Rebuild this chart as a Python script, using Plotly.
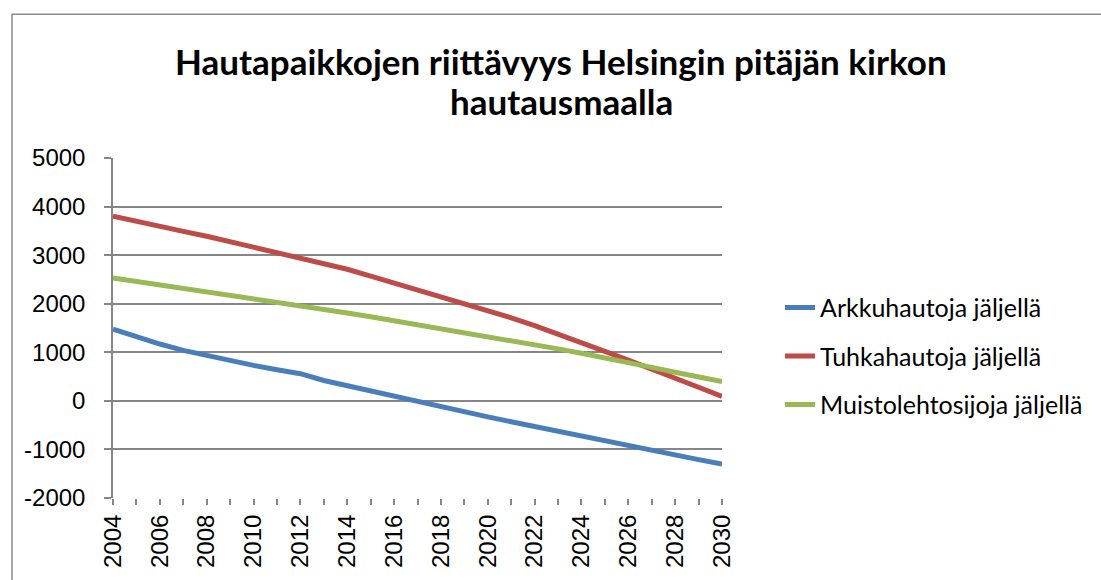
import plotly.graph_objects as go

years = list(range(2004, 2031))
arkku = [1476, 1310, 1170, 1040, 930, 830, 730, 640, 560, 420, 310, 200, 90, -20,
         -120, -230, -330, -430, -530, -630, -730, -830, -930, -1030, -1120, -1210, -1300]
tuhka = [3800, 3690, 3590, 3490, 3390, 3280, 3170, 3060, 2950, 2830, 2710, 2570, 2430, 2290,
         2150, 2010, 1860, 1710, 1550, 1380, 1200, 1020, 840, 660, 470, 280, 90]
muisto = [2530, 2460, 2390, 2320, 2250, 2180, 2110, 2040, 1970, 1890, 1810, 1730, 1650, 1570,
          1490, 1410, 1330, 1250, 1160, 1070, 980, 890, 790, 690, 590, 490, 395]
names = ["Arkkuhautoja jäljellä", "Tuhkahautoja jäljellä", "Muistolehtosijoja jäljellä"]
colors = ["#4A7EBB", "#BE4B48", "#98B954"]
y_ticks = [5000, 4000, 3000, 2000, 1000, 0, -1000, -2000]
y_labels = ["5000", "4000", "3000", "2000", "1000", "0", "-1000", "-2000"]
x_labels = list(range(2004, 2031, 2))

W, H = 1101, 580
L, R, T, B = 113, 722, 158, 501
pw, ph = R - L, B - T

def px_x(p):
    return (p - L) / pw

def px_y(p):
    return (B - p) / ph

fig = go.Figure()
legend_names = ["legend", "legend2", "legend3"]
for s, (vals, nm, c) in enumerate(zip([arkku, tuhka, muisto], names, colors)):
    fig.add_trace(go.Scatter(x=years, y=vals, name=nm, mode="lines",
                             line=dict(color=c, width=5), legend=legend_names[s]))

grid = "#868686"
tfont = dict(family="Liberation Sans, Arial, sans-serif", size=24, color="#000")
leg_common = dict(font=dict(family="Lato, Carlito, Calibri, sans-serif", size=25, color="#000"),
                  bgcolor="rgba(0,0,0,0)", xanchor="left", yanchor="middle",
                  itemwidth=30, borderwidth=0)
leg_y = [309, 358, 407]
layout_legs = {}
for ln, yy in zip(legend_names, leg_y):
    layout_legs[ln] = dict(x=px_x(780), y=px_y(yy), **leg_common)

tfont_title = dict(family="Lato, Carlito, Calibri, sans-serif", size=35, color="#000")

fig.update_layout(
    width=W, height=H,
    margin=dict(l=L, r=W - R, t=T, b=H - B, pad=0),
    paper_bgcolor="white", plot_bgcolor="white",
    showlegend=True,
    **layout_legs,
    xaxis=dict(range=[2004, 2030], tickmode="array", tickvals=x_labels,
               ticktext=[str(v) for v in x_labels], tickangle=-90,
               ticks="outside", ticklen=6, tickcolor=grid, tickwidth=1.5,
               minor=dict(ticks="outside", dtick=1, tick0=2004, ticklen=6, tickcolor=grid,
                          tickwidth=1.5, showgrid=False),
               showgrid=False, zeroline=False, showline=False,
               tickfont=tfont),
    yaxis=dict(range=[-2000, 5000], tickmode="array", tickvals=y_ticks, ticktext=y_labels,
               ticks="outside", ticklen=7, tickcolor=grid, tickwidth=1.5,
               ticklabelstandoff=14,
               showgrid=True, gridcolor=grid, gridwidth=1.5,
               zeroline=False, showline=True, linecolor=grid, linewidth=1.5,
               tickfont=tfont),
    annotations=[
        dict(text="<b>Hautapaikkojen riittävyys Helsingin pitäjän kirkon</b>",
             xref="paper", yref="paper", x=px_x(561), y=px_y(60),
             xanchor="center", yanchor="middle", showarrow=False, font=tfont_title),
        dict(text="<b>hautausmaalla</b>",
             xref="paper", yref="paper", x=px_x(561), y=px_y(101),
             xanchor="center", yanchor="middle", showarrow=False, font=tfont_title),
    ],
    shapes=[
        dict(type="rect", xref="paper", yref="paper",
             x0=px_x(12), x1=px_x(1110), y0=px_y(600), y1=px_y(13),
             line=dict(color="#8C8C8C", width=1.5), fillcolor="rgba(0,0,0,0)", layer="below"),
    ],
)

fig.write_html("out.html", config={"displayModeBar": False},
               post_script="document.body.style.margin='0';document.body.style.overflow='hidden';")
